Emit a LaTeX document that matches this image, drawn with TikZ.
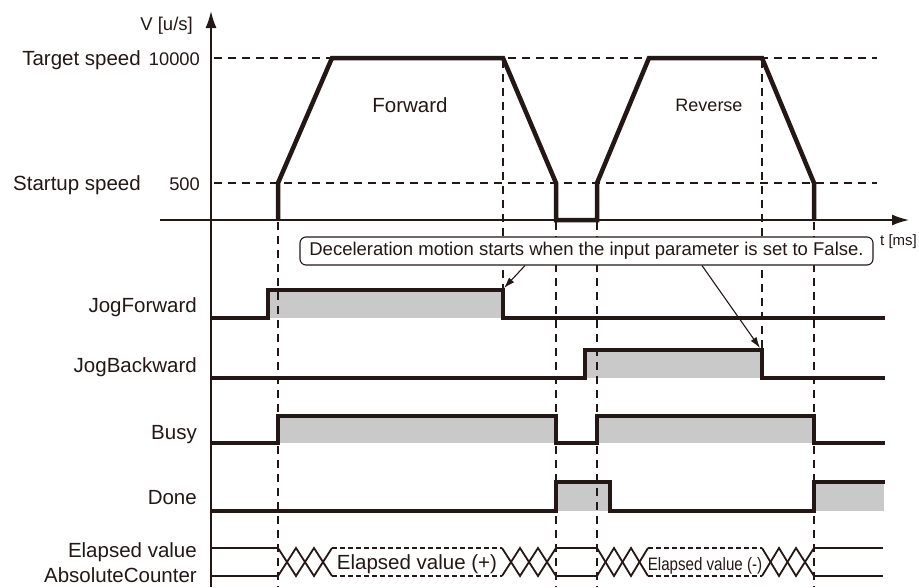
\documentclass[tikz,border=0pt]{standalone}
\usepackage{fontspec}
\setmainfont{Liberation Sans}
\usetikzlibrary{arrows.meta,calc}
\definecolor{ink}{HTML}{231815}
\definecolor{fillg}{HTML}{C9C9C9}
\begin{document}
\begin{tikzpicture}[x=1pt,y=-1pt,
  sig/.style={ink,line width=4pt,line join=miter,line cap=rect},
  prof/.style={ink,line width=4.5pt,line join=miter},
  guide/.style={ink,line width=1.1pt,dash pattern=on 8pt off 6pt},
  axisline/.style={ink,line width=1.6pt},
  bus/.style={ink,line width=1.8pt},
  busdash/.style={ink,line width=1.2pt,dash pattern=on 5pt off 3pt},
  lbl/.style={font=\fontsize{20.5}{24}\selectfont,text=ink,anchor=base east,inner sep=0pt},
  ctr/.style={text=ink,anchor=base,inner sep=0pt},
  gfill/.style={fill=fillg,draw=none},
  callarrow/.style={ink,line width=1.1pt,-{Latex[length=11pt,width=7pt]}},
]
\useasboundingbox (0,0) rectangle (919,587);

% ---- gray fills
\fill[gfill] (268,290) rectangle (503,318);
\fill[gfill] (585,350) rectangle (762,378);
\fill[gfill] (278,416) rectangle (556,443);
\fill[gfill] (597,416) rectangle (814,443);
\fill[gfill] (556,482) rectangle (610,511);
\fill[gfill] (814,482) rectangle (884,511);

% ---- guide lines
\draw[guide] (214,58) -- (877,58);
\draw[guide] (214,183) -- (877,183);
\draw[guide] (278,222) -- (278,587);
\draw[guide] (503,60) -- (503,290);
\draw[guide] (556,222) -- (556,587);
\draw[guide] (597,222) -- (597,587);
\draw[guide] (762,60) -- (762,350);
\draw[guide] (814,222) -- (814,587);

% ---- axes
\coordinate (vtop) at (211,11);
\coordinate (vbot) at (211,587);
\coordinate (hl) at (160,220);
\coordinate (hr) at (909,220);
\draw[axisline,-{Latex[length=17pt,width=11pt]}] (vbot) -- (vtop);
\draw[axisline,-{Latex[length=17pt,width=11pt]}] (hl) -- (hr);

% ---- speed profile
\draw[prof] (278,220) -- (278,183) -- (332,58) -- (503,58) -- (556,183) -- (556,220)
  -- (597,220) -- (597,183) -- (649,58) -- (762,58) -- (814,183) -- (814,220);

% ---- signals
\draw[sig] (212,318) -- (268,318) -- (268,290) -- (503,290) -- (503,318) -- (883,318);
\draw[sig] (212,378) -- (585,378) -- (585,350) -- (762,350) -- (762,378) -- (883,378);
\draw[sig] (212,443) -- (278,443) -- (278,416) -- (556,416) -- (556,443) -- (597,443)
  -- (597,416) -- (814,416) -- (814,443) -- (883,443);
\draw[sig] (212,511) -- (556,511) -- (556,482) -- (610,482) -- (610,511) -- (814,511)
  -- (814,482) -- (883,482);

% ---- bus (Elapsed value)
\def\T{548}\def\B{576}
\draw[bus] (211,\T) -- (278,\T);
\draw[bus] (211,\B) -- (278,\B);
\draw[bus] (278,\T) -- (296,\B) -- (314,\T) -- (332,\B);
\draw[bus] (278,\B) -- (296,\T) -- (314,\B) -- (332,\T);
\draw[busdash] (332,\T) -- (502,\T);
\draw[busdash] (332,\B) -- (502,\B);
\draw[bus] (502,\T) -- (520,\B) -- (538,\T) -- (556,\B);
\draw[bus] (502,\B) -- (520,\T) -- (538,\B) -- (556,\T);
\draw[bus] (556,\T) -- (597,\T);
\draw[bus] (556,\B) -- (597,\B);
\draw[bus] (597,\T) -- (614,\B) -- (631,\T) -- (648,\B);
\draw[bus] (597,\B) -- (614,\T) -- (631,\B) -- (648,\T);
\draw[busdash] (648,\T) -- (762,\T);
\draw[busdash] (648,\B) -- (762,\B);
\draw[bus] (762,\T) -- (779,\B) -- (796,\T) -- (814,\B);
\draw[bus] (762,\B) -- (779,\T) -- (796,\B) -- (814,\T);
\draw[bus] (814,\T) -- (883,\T);
\draw[bus] (814,\B) -- (883,\B);

\node[ctr,font=\fontsize{20.5}{24}\selectfont] (evp) at (417,569) {Elapsed value (+)};
\node[ctr,font=\fontsize{18}{21}\selectfont,xscale=0.84] (evm) at (705,570) {Elapsed value (-)};

% ---- labels
\node[ctr,font=\fontsize{18.5}{22}\selectfont,anchor=base east] (vlab) at (193,30) {V [u/s]};
\node[ctr,font=\fontsize{15}{18}\selectfont,anchor=base west] (tlab) at (880,245) {t [ms]};
\node[lbl] (tsp) at (141,65) {Target speed};
\node[lbl,font=\fontsize{18.3}{22}\selectfont] (tnum) at (200,65) {10000};
\node[lbl] (ssp) at (141,190) {Startup speed};
\node[lbl,font=\fontsize{18.3}{22}\selectfont] (snum) at (200,190) {500};
\node[lbl] (jf) at (197,312) {JogForward};
\node[lbl] (jb) at (197,372) {JogBackward};
\node[lbl] (busy) at (197,439) {Busy};
\node[lbl] (done) at (197,504) {Done};
\node[lbl] (ev) at (197,557) {Elapsed value};
\node[lbl] (ac) at (197,582) {AbsoluteCounter};
\node[ctr,font=\fontsize{20.5}{24}\selectfont] (fwd) at (410,112) {Forward};
\node[ctr,font=\fontsize{18}{22}\selectfont] (rev) at (709,111) {Reverse};

% ---- callout
\node[draw=ink,line width=1.1pt,rounded corners=6pt,fill=white,
      minimum width=573pt,minimum height=28pt,inner sep=0pt,
      text=ink,font=\fontsize{18.5}{22}\selectfont] (call) at (586.5,251)
      {Deceleration motion starts when the input parameter is set to False.};
\coordinate (a1) at (525,265);
\coordinate (a2) at (702,265);
\coordinate (jfend) at (504,288);
\coordinate (jbend) at (760,348);
\draw[callarrow] (call.south -| a1) -- (jfend);
\draw[callarrow] (call.south -| a2) -- (jbend);
\end{tikzpicture}
\end{document}
